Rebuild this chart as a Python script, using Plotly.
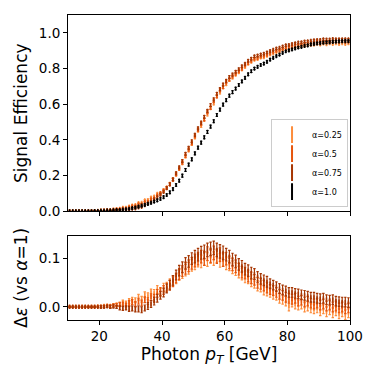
from plotly.subplots import make_subplots
import plotly.graph_objects as go

# bin centres, 1 GeV bins from 10 to 100
pt = [10.5 + i for i in range(90)]

# signal efficiency for alpha = 1.0
eff_a100 = [0.0, 0.0, 0.0, 0.0, 0.0, 0.001, 0.001, 0.001, 0.002, 0.002,
             0.003, 0.003, 0.004, 0.005, 0.006, 0.007, 0.008, 0.01, 0.012, 0.015,
             0.018, 0.022, 0.027, 0.032, 0.037, 0.042, 0.048, 0.055, 0.062, 0.07,
             0.08, 0.092, 0.107, 0.125, 0.148, 0.172, 0.2, 0.232, 0.262, 0.292,
             0.325, 0.357, 0.385, 0.415, 0.445, 0.475, 0.505, 0.54, 0.57, 0.598,
             0.623, 0.648, 0.668, 0.688, 0.708, 0.728, 0.748, 0.768, 0.785, 0.8,
             0.81, 0.82, 0.828, 0.838, 0.85, 0.86, 0.87, 0.878, 0.888, 0.897,
             0.902, 0.907, 0.913, 0.918, 0.922, 0.927, 0.93, 0.935, 0.938, 0.941,
             0.943, 0.945, 0.947, 0.948, 0.95, 0.951, 0.952, 0.953, 0.954, 0.954]

# efficiency difference w.r.t. alpha = 1.0
d_a025 = [0, 0, 0, 0, 0, 0, 0, 0, 0, 0.001,
          0.001, 0.002, 0.003, 0.002, 0.004, 0.005, 0.006, 0.01, 0.008, 0.012,
          0.015, 0.014, 0.02, 0.016, 0.025, 0.022, 0.03, 0.028, 0.036, 0.03,
          0.04, 0.042, 0.048, 0.054, 0.058, 0.066, 0.07, 0.076, 0.08, 0.086,
          0.09, 0.096, 0.094, 0.1, 0.098, 0.104, 0.1, 0.106, 0.096, 0.098,
          0.09, 0.088, 0.082, 0.078, 0.072, 0.068, 0.062, 0.06, 0.054, 0.05,
          0.044, 0.042, 0.036, 0.034, 0.03, 0.026, 0.024, 0.018, 0.016, 0.012,
          0.002, 0.01, 0.006, 0.004, 0.006, 0.0, 0.002, -0.002, -0.004, -0.002,
          -0.008, -0.004, -0.01, -0.006, -0.012, -0.008, -0.014, -0.01, -0.016, -0.012]
d_a050 = [0, 0, 0, 0, 0, 0, 0, 0, 0, 0,
          0, 0.001, 0.002, 0.001, 0.003, 0.004, 0.005, 0.006, 0.004, 0.008,
          0.01, 0.006, 0.012, 0.008, 0.015, 0.012, 0.02, 0.018, 0.028, 0.032,
          0.035, 0.04, 0.045, 0.052, 0.06, 0.068, 0.074, 0.08, 0.085, 0.09,
          0.096, 0.1, 0.104, 0.1, 0.11, 0.106, 0.112, 0.104, 0.108, 0.098,
          0.1, 0.092, 0.088, 0.084, 0.078, 0.072, 0.07, 0.064, 0.06, 0.056,
          0.05, 0.048, 0.044, 0.04, 0.036, 0.034, 0.03, 0.026, 0.024, 0.02,
          0.018, 0.016, 0.018, 0.012, 0.014, 0.01, 0.012, 0.008, 0.006, 0.008,
          0.004, 0.006, 0.002, 0.004, 0.0, 0.002, -0.002, 0.0, -0.004, -0.002]
d_a075 = [0, 0, 0, 0, 0, 0, 0, 0, 0, 0,
          0, 0, 0.001, 0, 0.001, 0.0, -0.002, -0.003, -0.002, -0.004,
          -0.003, -0.005, -0.004, -0.006, -0.002, 0.002, 0.006, 0.012, 0.018, 0.024,
          0.03, 0.038, 0.045, 0.055, 0.066, 0.075, 0.082, 0.09, 0.094, 0.1,
          0.104, 0.108, 0.112, 0.114, 0.118, 0.12, 0.122, 0.118, 0.115, 0.112,
          0.108, 0.104, 0.098, 0.094, 0.088, 0.084, 0.078, 0.075, 0.07, 0.068,
          0.062, 0.058, 0.055, 0.052, 0.048, 0.045, 0.042, 0.038, 0.035, 0.033,
          0.03, 0.03, 0.028, 0.027, 0.025, 0.024, 0.022, 0.02, 0.02, 0.018,
          0.017, 0.018, 0.015, 0.014, 0.015, 0.012, 0.011, 0.01, 0.01, 0.009]

# statistical uncertainties
err_eff = [0.001, 0.001, 0.001, 0.001, 0.001, 0.001, 0.001, 0.001, 0.001, 0.001,
           0.002, 0.002, 0.002, 0.002, 0.002, 0.003, 0.003, 0.003, 0.003, 0.003,
           0.004, 0.004, 0.004, 0.004, 0.005, 0.005, 0.005, 0.005, 0.006, 0.006,
           0.006, 0.006, 0.007, 0.007, 0.007, 0.007, 0.008, 0.008, 0.008, 0.008,
           0.008, 0.008, 0.008, 0.008, 0.008, 0.008, 0.008, 0.008, 0.008, 0.008,
           0.008, 0.008, 0.008, 0.007, 0.007, 0.007, 0.007, 0.007, 0.007, 0.006,
           0.006, 0.006, 0.006, 0.006, 0.006, 0.005, 0.005, 0.005, 0.005, 0.005,
           0.005, 0.005, 0.005, 0.005, 0.005, 0.005, 0.005, 0.005, 0.005, 0.005,
           0.005, 0.005, 0.005, 0.005, 0.005, 0.005, 0.005, 0.005, 0.005, 0.005]
err_diff = [0.001, 0.001, 0.001, 0.001, 0.001, 0.001, 0.001, 0.001, 0.001, 0.001,
            0.002, 0.002, 0.002, 0.003, 0.003, 0.003, 0.004, 0.004, 0.004, 0.005,
            0.005, 0.005, 0.006, 0.006, 0.006, 0.007, 0.007, 0.008, 0.008, 0.008,
            0.009, 0.009, 0.01, 0.01, 0.01, 0.011, 0.011, 0.012, 0.012, 0.012,
            0.013, 0.013, 0.013, 0.014, 0.014, 0.014, 0.014, 0.014, 0.014, 0.014,
            0.013, 0.013, 0.013, 0.013, 0.012, 0.012, 0.012, 0.012, 0.012, 0.011,
            0.011, 0.011, 0.011, 0.011, 0.01, 0.01, 0.01, 0.01, 0.01, 0.01,
            0.01, 0.01, 0.01, 0.01, 0.01, 0.01, 0.01, 0.01, 0.01, 0.01,
            0.01, 0.01, 0.01, 0.01, 0.01, 0.01, 0.01, 0.01, 0.01, 0.01]

labels = ["α=0.25", "α=0.5", "α=0.75", "α=1.0"]
colours = ["#fd8d3c", "#e6550d", "#a63603", "#000000"]
diffs = [d_a025, d_a050, d_a075, [0.0] * 90]

fig = make_subplots(rows=2, cols=1, row_heights=[0.7, 0.3], vertical_spacing=0.08)

for lab, col, d in zip(labels, colours, diffs):
    eff = [e + x for e, x in zip(eff_a100, d)]
    fig.add_trace(go.Scatter(x=pt, y=eff, mode="markers", name=lab,
                             marker=dict(symbol="line-ns-open", size=3, color=col,
                                         line=dict(width=1.5, color=col)),
                             error_y=dict(type="data", array=err_eff, color=col,
                                          thickness=1, width=1.2)),
                  row=1, col=1)

fig.add_hline(y=0, line=dict(color="#888888", width=1.5), row=2, col=1)

for lab, col, d in zip(labels[:3], colours[:3], diffs[:3]):
    fig.add_trace(go.Scatter(x=pt, y=d, mode="markers", name=lab, showlegend=False,
                             marker=dict(symbol="line-ns-open", size=3, color=col,
                                         line=dict(width=1.5, color=col)),
                             error_y=dict(type="data", array=err_diff, color=col,
                                          thickness=1.2, width=1.2)),
                  row=2, col=1)

axis_style = dict(showline=True, mirror=True, linecolor="black", linewidth=1,
                  ticks="outside", ticklen=4, tickcolor="black", showgrid=False,
                  zeroline=False, tickfont=dict(size=13.5, color="black"))

fig.update_xaxes(range=[10, 100], tickvals=[20, 40, 60, 80, 100], **axis_style)
fig.update_xaxes(showticklabels=False, row=1, col=1)
fig.update_xaxes(title=dict(text="Photon <i>p</i><sub><i>T</i></sub> [GeV]",
                            font=dict(size=17, color="black"), standoff=4),
                 row=2, col=1)
fig.update_yaxes(**axis_style)
fig.update_yaxes(range=[0, 1.1], tickvals=[0, 0.2, 0.4, 0.6, 0.8, 1.0],
                 tickformat=".1f",
                 title=dict(text="Signal Efficiency", font=dict(size=17, color="black"),
                            standoff=6),
                 row=1, col=1)
fig.update_yaxes(range=[-0.027, 0.147], tickvals=[0, 0.1], tickformat=".1f",
                 title=dict(text="Δ<i>ε</i> (vs <i>α</i>=1)",
                            font=dict(size=17, color="black"), standoff=6),
                 row=2, col=1)

# page body has an 8px margin, so the figure is 373 px and the margins shift by 8
fig.update_layout(width=373, height=373,
                  margin=dict(l=60, r=31, t=7, b=61),
                  plot_bgcolor="white", paper_bgcolor="white",
                  font=dict(family="DejaVu Sans", color="black"),
                  legend=dict(x=0.993, y=0.37, xanchor="right", yanchor="bottom",
                              bgcolor="rgba(255,255,255,0.8)", bordercolor="#cccccc",
                              borderwidth=1, font=dict(size=8),
                              itemwidth=30, tracegroupgap=0,
                              itemsizing="constant"))

fig.write_html("out.html")
